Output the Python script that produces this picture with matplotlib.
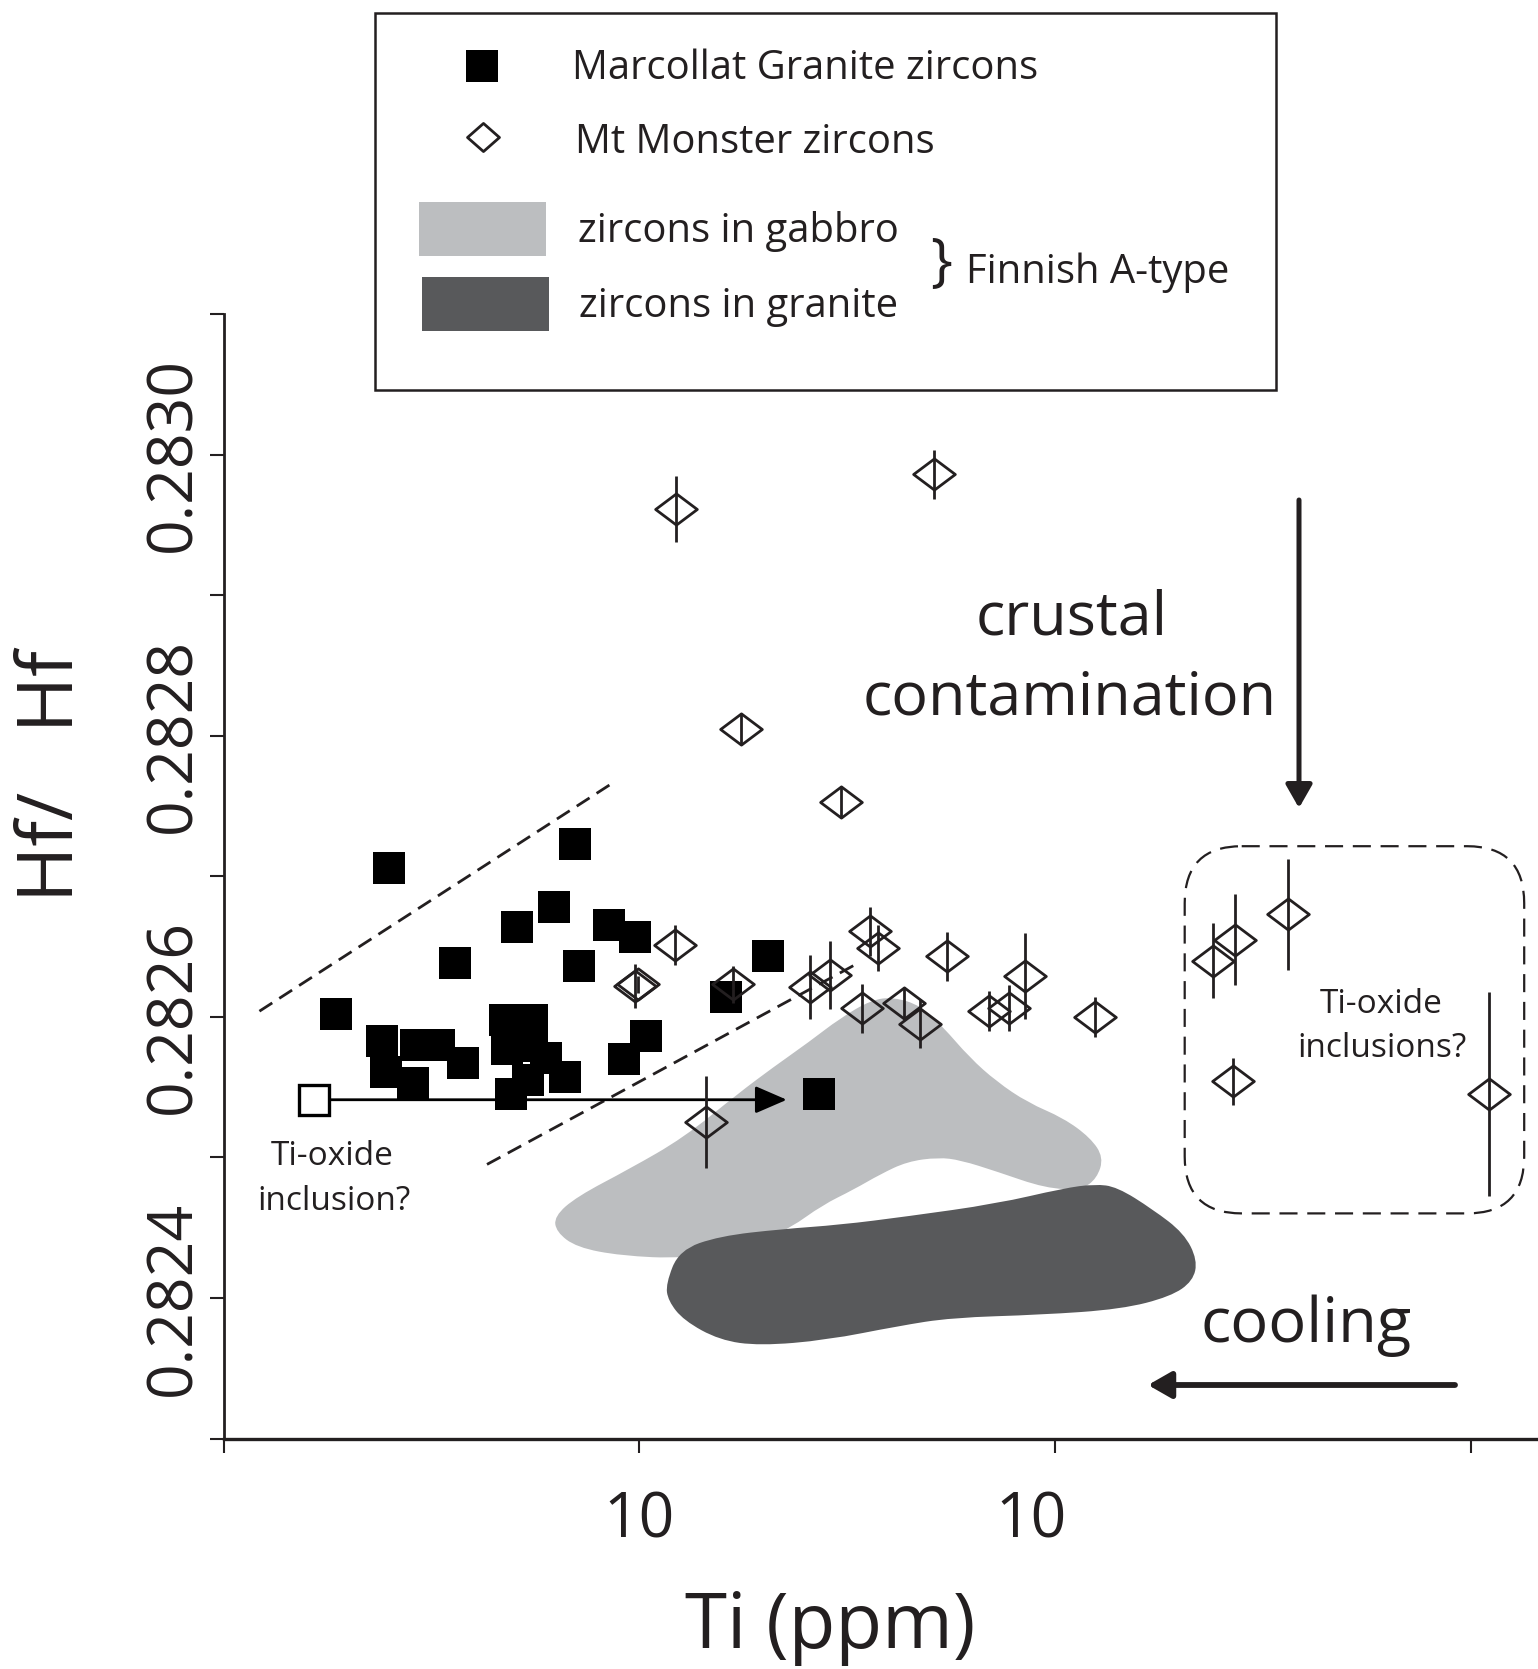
import numpy as np
import matplotlib
matplotlib.use('Agg')
import matplotlib.pyplot as plt
import matplotlib.transforms as mtransforms
from matplotlib.path import Path
from matplotlib.patches import PathPatch, Rectangle, FancyBboxPatch
from matplotlib.ticker import FixedLocator, FixedFormatter, NullLocator

plt.rcParams['font.family'] = ['Open Sans', 'DejaVu Sans']
plt.rcParams['lines.scale_dashes'] = False

INK = '#231F20'
LIGHT = '#BCBEC0'
DARK = '#58595B'

# Marcollat Granite zircons: Ti (ppm) and 176Hf/177Hf
marcollat_ti = [2.503, 1.864, 3.607, 5.077, 6.241, 6.981, 7.148, 8.464, 9.755,
                2.402, 2.459, 2.849, 2.910, 3.304, 3.758, 4.758, 5.513, 4.814,
                4.900, 5.520, 5.946, 5.404, 6.619, 9.155, 10.35, 16.16, 20.32, 27.06]
marcollat_hf = [0.282706, 0.282602, 0.282638, 0.282664, 0.282678, 0.282723, 0.282636,
                0.282665, 0.282657, 0.282583, 0.282561, 0.282553, 0.282580, 0.282580,
                0.282567, 0.282598, 0.282598, 0.282577, 0.282545, 0.282579, 0.282571,
                0.282555, 0.282557, 0.282570, 0.282586, 0.282614, 0.282643, 0.282545]

# analysis with a probable Ti-oxide inclusion (open square) and its shifted position
inclusion_ti = 1.654
inclusion_hf = 0.282541
inclusion_arrow_ti = 22.6

# Mt Monster zircons with 2 sigma errors on 176Hf/177Hf
mtmonster_ti = [12.27, 51.1, 17.52, 30.52, 12.16, 9.77, 9.94, 16.79, 35.87, 37.43,
                54.72, 84.5, 25.65, 28.64, 34.30, 43.32, 47.17, 69.07, 77.29, 124.5,
                14.47, 238.9, 270.4, 361.7, 266.9, 1103]
mtmonster_hf = [0.282961, 0.282986, 0.282805, 0.282753, 0.282651, 0.282622, 0.282623,
                0.282623, 0.282661, 0.282649, 0.282643, 0.282629, 0.282621, 0.282630,
                0.282606, 0.282610, 0.282595, 0.282604, 0.282606, 0.282600, 0.282525,
                0.282640, 0.282655, 0.282673, 0.282554, 0.282545]
mtmonster_err = [2.35e-5, 1.74e-5, 1.14e-5, 1.14e-5, 1.44e-5, 1.59e-5, 0.6e-5, 1.29e-5,
                 1.74e-5, 1.63e-5, 1.74e-5, 3.03e-5, 2.27e-5, 2.42e-5, 1.74e-5, 1.14e-5,
                 1.74e-5, 1.44e-5, 1.63e-5, 1.44e-5, 3.26e-5, 2.65e-5, 3.26e-5, 3.94e-5,
                 1.67e-5, 7.27e-5]

# Finnish A-type fields (outline vertices)
gabbro_ti = [6.24, 7.06, 9.49, 12.77, 17.19, 20.94, 25.53, 30.35, 36.09, 40.84, 47.38,
             53.60, 62.19, 72.14, 85.76, 104.5, 121.3, 130.5, 125.8, 115.4, 94.68, 72.14,
             59.19, 52.29, 44.00, 37.92, 32.68, 27.50, 23.13, 18.51, 12.77, 9.03, 7.06, 6.31]
gabbro_hf = [0.282458, 0.282472, 0.282492, 0.282514, 0.282545, 0.282564, 0.282582,
             0.282599, 0.282612, 0.282614, 0.282608, 0.282593, 0.282571, 0.282554,
             0.282539, 0.282528, 0.282514, 0.282500, 0.282485, 0.282477, 0.282478,
             0.282490, 0.282498, 0.282500, 0.282497, 0.282488, 0.282477, 0.282466,
             0.282450, 0.282436, 0.282428, 0.282430, 0.282436, 0.282447]
granite_ti = [11.57, 12.46, 15.57, 22.00, 30.35, 44.00, 72.14, 104.5, 124.3, 140.6, 171.4,
              203.7, 219.4, 214.1, 189.1, 144.1, 92.35, 56.31, 41.87, 28.19, 19.45, 15.57,
              12.77, 11.72]
granite_hf = [0.282410, 0.282434, 0.282444, 0.282449, 0.282452, 0.282458, 0.282467,
              0.282478, 0.282481, 0.282479, 0.282463, 0.282446, 0.282427, 0.282412,
              0.282401, 0.282392, 0.282388, 0.282386, 0.282380, 0.282370, 0.282366,
              0.282370, 0.282384, 0.282398]

# dashed envelope around the Marcollat data
upper_env_ti = [1.220, 8.48]
upper_env_hf = [0.282604, 0.282765]
lower_env_ti = [4.30, 32.96]
lower_env_hf = [0.282495, 0.282637]

y_ticks = [0.2823, 0.2824, 0.2825, 0.2826, 0.2827, 0.2828, 0.2829, 0.2830, 0.2831]
y_ticklabels = ['', '0.2824', '', '0.2826', '', '0.2828', '', '0.2830', '']
x_ticks = [1, 10, 100, 1000]
x_ticklabels = ['', '10', '10', '']


def smooth_field(xs, ys):
    # closed quadratic B-spline through the midpoints (geometric mean in x for log axis)
    n = len(xs)
    mids = [(np.sqrt(xs[i] * xs[(i + 1) % n]), (ys[i] + ys[(i + 1) % n]) / 2) for i in range(n)]
    verts = [mids[0]]
    codes = [Path.MOVETO]
    for i in range(1, n + 1):
        verts += [(xs[i % n], ys[i % n]), mids[i % n]]
        codes += [Path.CURVE3, Path.CURVE3]
    verts.append(mids[0])
    codes.append(Path.CLOSEPOLY)
    return Path(verts, codes)


diamond = Path([(-1, 0), (0, 0.75), (1, 0), (0, -0.75), (-1, 0)],
               [Path.MOVETO, Path.LINETO, Path.LINETO, Path.LINETO, Path.CLOSEPOLY])
diamond_key = Path([(-1, 0), (0, 0.88), (1, 0), (0, -0.88), (-1, 0)],
                   [Path.MOVETO, Path.LINETO, Path.LINETO, Path.LINETO, Path.CLOSEPOLY])

fig = plt.figure(figsize=(15.38, 16.69), dpi=100)
ax = fig.add_axes([223.5 / 1538, 1 - 1438.5 / 1669, 1 - 223.5 / 1538, 1124.5 / 1669])

ax.set_xscale('log')
ax.set_xlim(1, 10 ** 3.16)
ax.set_ylim(0.2823, 0.2831)

ax.add_patch(PathPatch(smooth_field(gabbro_ti, gabbro_hf), fc=LIGHT, ec='none', zorder=1))
ax.add_patch(PathPatch(smooth_field(granite_ti, granite_hf), fc=DARK, ec='none', zorder=1.1))

for xs, ys in [(upper_env_ti, upper_env_hf), (lower_env_ti, lower_env_hf)]:
    ax.plot(xs, ys, color=INK, lw=2, dashes=(11, 6), zorder=2)

ax.plot(marcollat_ti, marcollat_hf, ls='none', marker='s', ms=23.6, mfc='black', mew=0, zorder=3)
ax.plot([inclusion_ti], [inclusion_hf], ls='none', marker='s', ms=22, mfc='white',
        mec='black', mew=2.4, zorder=3)
ax.annotate('', xy=(inclusion_arrow_ti, inclusion_hf), xytext=(inclusion_ti, inclusion_hf),
            arrowprops=dict(arrowstyle='-|>,head_length=0.97,head_width=0.42', lw=2,
                            color='black', shrinkA=12, shrinkB=0, mutation_scale=20),
            zorder=3)

ax.errorbar(mtmonster_ti, mtmonster_hf, yerr=mtmonster_err, fmt='none', ecolor=INK,
            elinewidth=2, capsize=0, zorder=4)
ax.plot(mtmonster_ti, mtmonster_hf, ls='none', marker=diamond, ms=30, mfc='none',
        mec=INK, mew=2, zorder=4)

for side in ['top', 'right']:
    ax.spines[side].set_visible(False)
ax.spines['left'].set_linewidth(2)
ax.spines['bottom'].set_linewidth(2.4)
ax.spines['left'].set_color(INK)
ax.spines['bottom'].set_color(INK)

ax.yaxis.set_major_locator(FixedLocator(y_ticks))
ax.yaxis.set_major_formatter(FixedFormatter(y_ticklabels))
ax.xaxis.set_major_locator(FixedLocator(x_ticks))
ax.xaxis.set_major_formatter(FixedFormatter(x_ticklabels))
ax.xaxis.set_minor_locator(NullLocator())
ax.tick_params(axis='both', direction='out', length=10, width=1.5, color=INK, labelcolor=INK)
ax.tick_params(axis='y', labelsize=45, pad=3)
ax.tick_params(axis='x', labelsize=45, pad=27)
plt.setp(ax.get_yticklabels(), rotation=90, va='center')
xlabels = ax.get_xticklabels()
xlabels[2].set_transform(xlabels[2].get_transform() +
                         mtransforms.ScaledTranslation(-0.24, 0, fig.dpi_scale_trans))

ax.set_xlabel('Ti (ppm)', fontsize=55, color=INK)
ax.xaxis.label.set_va('baseline')
ax.xaxis.set_label_coords((830 - 223.5) / 1314.5, (1438.5 - 1648) / 1124.5)
ax.set_ylabel('Hf/   Hf', fontsize=55, color=INK)
ax.yaxis.label.set_va('center')
ax.yaxis.set_label_coords((53 - 223.5) / 1314.5, (1438.5 - 776) / 1124.5)

# overlay in pixel units for the key and the annotations
ov = fig.add_axes([0, 0, 1, 1], zorder=5)
ov.set_xlim(0, 1538)
ov.set_ylim(1669, 0)
ov.axis('off')
ov.patch.set_visible(False)

ov.add_patch(Rectangle((374.7, 12.8), 901.5, 376.8, fill=False, ec=INK, lw=1.8))
ov.plot([482], [66.3], ls='none', marker='s', ms=23.5, mfc='black', mew=0)
ov.plot([483.3], [136.7], ls='none', marker=diamond_key, ms=23, mfc='none', mec=INK, mew=2)
ov.add_patch(Rectangle((419, 201.7), 127, 54.3, fc=LIGHT, ec='none'))
ov.add_patch(Rectangle((422, 276.7), 127, 54, fc=DARK, ec='none'))
key_texts = [('Marcollat Granite zircons', 571.7, 79),
             ('Mt Monster zircons', 574.6, 153.3),
             ('zircons in gabbro', 577.6, 241.7),
             ('zircons in granite', 578.8, 316.7),
             ('Finnish A-type', 966, 283.3)]
for txt, x, y in key_texts:
    ov.text(x, y, txt, fontsize=28.8, color=INK, ha='left', va='baseline')
ov.text(941, 265, '}', fontsize=42, color=INK, ha='center', va='center')

notes = [('crustal', 1072, 634, 44), ('contamination', 1070, 714, 44),
         ('cooling', 1306, 1342, 45.5),
         ('Ti-oxide', 332, 1165, 24), ('inclusion?', 334, 1210, 24),
         ('Ti-oxide', 1381, 1013, 24), ('inclusions?', 1382, 1057, 24)]
for txt, x, y, size in notes:
    ov.text(x, y, txt, fontsize=size, color=INK, ha='center', va='baseline')

ov.add_patch(FancyBboxPatch((1184.7, 846.2), 339.5, 367.2,
                            boxstyle='round,pad=0,rounding_size=57', fill=False,
                            ec=INK, lw=1.6, ls=(0, (13, 7))))
ov.annotate('', xy=(1299, 808), xytext=(1299, 500),
            arrowprops=dict(arrowstyle='-|>,head_length=0.7,head_width=0.4', lw=3.6,
                            color=INK, shrinkA=0, shrinkB=0, mutation_scale=20))
ov.annotate('', xy=(1148, 1385), xytext=(1455, 1385),
            arrowprops=dict(arrowstyle='-|>,head_length=0.7,head_width=0.4', lw=4.2,
                            color=INK, shrinkA=0, shrinkB=0, mutation_scale=20))

fig.savefig('out.png', dpi=100)
